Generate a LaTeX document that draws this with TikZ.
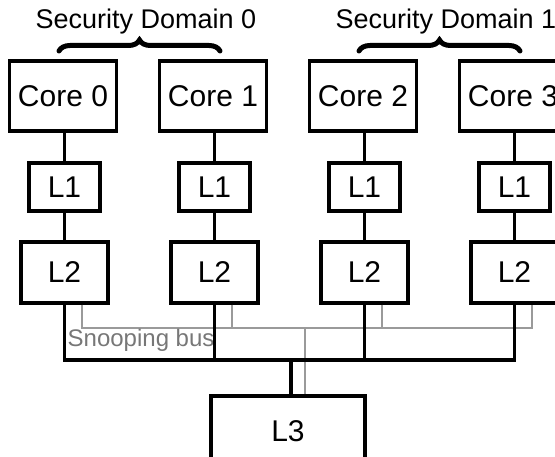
\documentclass[tikz,border=0pt]{standalone}
\usepackage{fontspec}
\setmainfont{Liberation Sans}
\usetikzlibrary{decorations.pathreplacing,calc}
\definecolor{busgray}{HTML}{9A9A9A}
\definecolor{labelgray}{HTML}{777777}
\begin{document}
\begin{tikzpicture}[x=1pt,y=-1pt,
  box/.style={draw=black,line width=3.4pt,fill=white,inner sep=0pt,
    font=\fontsize{30}{33}\selectfont},
  corebox/.style={box,minimum width=107pt,minimum height=70pt},
  lonebox/.style={box,minimum width=71pt,minimum height=48pt},
  ltwobox/.style={box,minimum width=87pt,minimum height=61pt},
  lthreebox/.style={box,minimum width=154pt,minimum height=70pt},
  wire/.style={draw=black,line width=3.2pt},
  snoop/.style={draw=busgray,line width=2.8pt},
  domainbrace/.style={draw=black,line width=5pt,line cap=round,
    decorate,decoration={brace,amplitude=11pt}},
  domainlabel/.style={font=\fontsize{27}{30}\selectfont,inner sep=0pt}]
\useasboundingbox (0,0) rectangle (555,457);

% cores, L1 and L2 caches, one column per core
\foreach \i/\n in {0/a,1/b,2/c,3/d}{
  \node[corebox] (core\n) at (63+150*\i,96) {Core \i};
  \node[lonebox] (lone\n) at (64.5+150*\i,187) {L1};
  \node[ltwobox] (ltwo\n) at (64.5+150*\i,272.5) {L2};
}
\node[lthreebox] (lthree) at (288,431) {L3};

% core to L1 to L2 links
\foreach \n in {a,b,c,d}{
  \draw[wire] (lone\n.north |- core\n.south) -- (lone\n.north);
  \draw[wire] (lone\n.south) -- (ltwo\n.north);
}

% snooping bus (gray)
\coordinate (sbus) at (0,328);
\foreach \n in {a,b,c,d}{
  \coordinate (tap\n) at ($(ltwo\n.south)+(17.5,0)$);
}
\draw[snoop] (tapa) -- (tapa |- sbus) -- (tapd |- sbus) -- (tapd);
\foreach \n in {b,c}{
  \draw[snoop] (tap\n) -- (tap\n |- sbus);
}
\coordinate (sdrop) at (305,328);
\draw[snoop] (sdrop) -- (sdrop |- lthree.north);
\node[anchor=base west,inner sep=0pt,text=labelgray,
  font=\fontsize{24}{27}\selectfont] (snooplabel) at (67.5,347) {Snooping bus};

% shared bus to L3 (black)
\coordinate (bbus) at (0,360);
\draw[wire] (ltwoa.south) -- (ltwoa.south |- bbus) -- (ltwod.south |- bbus) -- (ltwod.south);
\foreach \n in {b,c}{
  \draw[wire] (ltwo\n.south) -- (ltwo\n.south |- bbus);
}
\coordinate (bdrop) at (291,360);
\draw[wire] (bdrop) -- (bdrop |- lthree.north);

% security domains
\coordinate (bra) at (59,51);
\coordinate (brb) at (220,51);
\coordinate (brc) at (359,51);
\coordinate (brd) at (520,51);
\draw[domainbrace] (bra) -- (brb);
\draw[domainbrace] (brc) -- (brd);
\node[domainlabel] (sdzero) at (146,22) {Security Domain 0};
\node[domainlabel] (sdone) at (446,22) {Security Domain 1};
\end{tikzpicture}
\end{document}
